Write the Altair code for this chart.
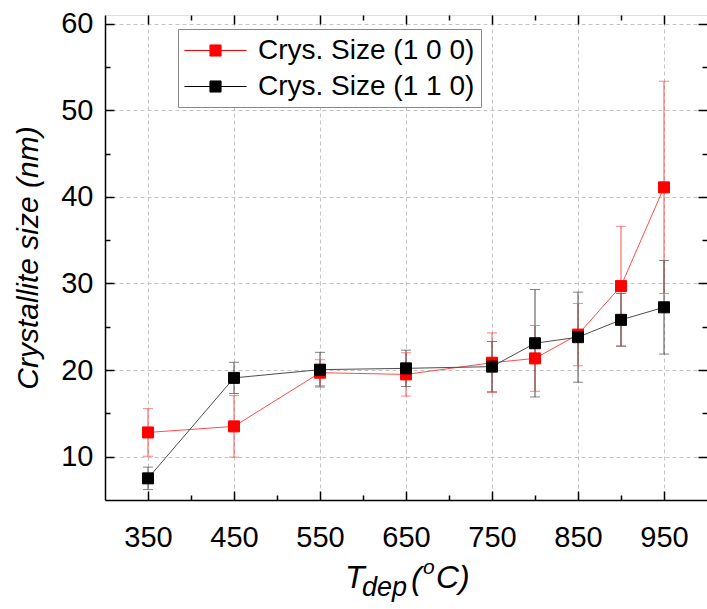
import altair as alt
import pandas as pd

# ---- data ----
temps = [350, 450, 550, 650, 750, 800, 850, 900, 950]
size_100 = [12.8, 13.5, 19.7, 19.5, 20.85, 21.35, 24.1, 29.7, 41.1]
err_100 = [2.75, 3.55, 1.5, 2.5, 3.45, 3.8, 3.6, 6.9, 12.25]
size_110 = [7.5, 19.1, 20.05, 20.2, 20.4, 23.1, 23.8, 25.8, 27.25]
err_110 = [1.3, 1.8, 2.0, 2.1, 2.9, 6.2, 5.2, 3.05, 5.4]
series_names = ["\u00a0Crys. Size (1 0 0)", "Crys. Size (1 1 0)"]
series_colors = ["#ff0000", "#000000"]
series_light = ["#ff4d4d", "#4d4d4d"]
x_major = [350, 450, 550, 650, 750, 850, 950]
x_minor = [400, 500, 600, 700, 800, 900]
y_major = [10, 20, 30, 40, 50, 60]
y_minor = [15, 25, 35, 45, 55]
y_title = "Crystallite size (nm)"

rows = []
for name, vals, errs in [(series_names[0], size_100, err_100), (series_names[1], size_110, err_110)]:
    for t, v, e in zip(temps, vals, errs):
        rows.append({"series": name, "grp": name, "T": t, "size": v, "lo": v - e, "hi": v + e})
df = pd.DataFrame(rows)

W, H = 602, 485
FONT = "Liberation Sans"
xs = alt.Scale(domain=[300, 1000], nice=False, zero=False)
ys = alt.Scale(domain=[5, 61], nice=False, zero=False)
cs = alt.Scale(domain=series_names, range=series_colors)
ls = alt.Scale(range=series_light)

legend_path = "M-2.07,0H2.07M-0.37,-0.37H0.37V0.37H-0.37Z"
leg = alt.Legend(orient="none", legendX=73, legendY=14, title=None,
                 symbolType=legend_path, symbolSize=900, symbolStrokeWidth=1,
                 symbolOffset=16, symbolOpacity=1,
                 labelFont=FONT, labelFontSize=28, labelColor="black", labelLimit=500,
                 labelOffset=27, padding=6, rowPadding=6, strokeColor="#888888",
                 fillColor="white")


def tick_axis(orient, values, size, offset):
    return alt.Axis(orient=orient, values=values, offset=offset, tickSize=size, tickWidth=1.5,
                    tickColor="black", labels=False, domain=False, grid=False, title=None)


def light():
    return alt.Color("grp:N", sort=series_names, scale=ls, legend=None)


base = alt.Chart(df)

rules = base.mark_rule(strokeWidth=1).encode(
    x=alt.X("T:Q", scale=xs, axis=alt.Axis(
        orient="bottom", values=x_major, ticks=False, grid=True, gridDash=[4, 3],
        gridColor="#c4c4c4", gridWidth=1, domainColor="black", domainWidth=1.5,
        labelFont=FONT, labelFontSize=29, labelColor="black", labelPadding=23,
        title=None)),
    y=alt.Y("lo:Q", scale=ys, axis=alt.Axis(
        orient="left", values=y_major, ticks=False, grid=True, gridDash=[4, 3],
        gridColor="#c4c4c4", gridWidth=1, domainColor="black", domainWidth=1.5,
        labelFont=FONT, labelFontSize=29, labelColor="black", labelPadding=12,
        title=y_title, titleFont=FONT, titleFontSize=30, titleFontStyle="italic",
        titleFontWeight="normal", titleColor="black", titlePadding=17)),
    y2="hi:Q",
    color=light(),
)

caps = base.transform_fold(["lo", "hi"], as_=["k", "v"]).mark_tick(
    orient="horizontal", size=10, thickness=1).encode(
    x=alt.X("T:Q", scale=xs, axis=tick_axis("top", x_major, 9, -H)),
    y=alt.Y("v:Q", scale=ys, axis=tick_axis("right", y_major, 9, -W)),
    color=light(),
)

lines = base.mark_line(strokeWidth=1).encode(
    x=alt.X("T:Q", scale=xs, axis=tick_axis("top", x_minor, 5, -H)),
    y=alt.Y("size:Q", scale=ys, axis=tick_axis("right", y_minor, 5, -W)),
    color=light(),
    detail="series:N",
)

points = base.mark_square(size=121, opacity=1, strokeWidth=1).encode(
    x=alt.X("T:Q", scale=xs, axis=tick_axis("bottom", x_major, 9, -H)),
    y=alt.Y("size:Q", scale=ys, axis=tick_axis("left", y_major, 9, -W)),
    fill=alt.Fill("series:N", scale=cs, legend=leg),
    stroke=alt.Stroke("series:N", scale=cs, legend=leg),
    order=alt.Order("series:N", sort="descending"),
)

ghost = base.mark_point(opacity=0).encode(
    x=alt.X("T:Q", scale=xs, axis=tick_axis("bottom", x_minor, 5, -H)),
    y=alt.Y("size:Q", scale=ys, axis=tick_axis("left", y_minor, 5, -W)),
)


def piece(txt, px, py, fs):
    return alt.Chart(pd.DataFrame({"t": [txt]})).mark_text(
        align="left", baseline="alphabetic", font=FONT, fontStyle="italic",
        fontSize=fs, color="black").encode(text="t:N", x=alt.value(px), y=alt.value(py))


title_parts = [piece("T", 240, 573, 32), piece("dep", 257, 581, 27),
               piece("(", 306, 574, 32), piece("o", 318, 559, 21), piece("C)", 331, 573, 32)]

chart = alt.layer(rules, caps, lines, points, ghost, *title_parts).resolve_axis(
    x="independent", y="independent").resolve_scale(x="shared", y="shared").properties(
    width=W, height=H,
    autosize=alt.AutoSizeParams(type="none"),
    padding={"left": 105, "top": 15, "right": 0, "bottom": 109},
).configure_view(stroke="black", strokeWidth=1.5).configure(background="white")

chart.save("out.html", embed_options={"renderer": "svg", "actions": False})
